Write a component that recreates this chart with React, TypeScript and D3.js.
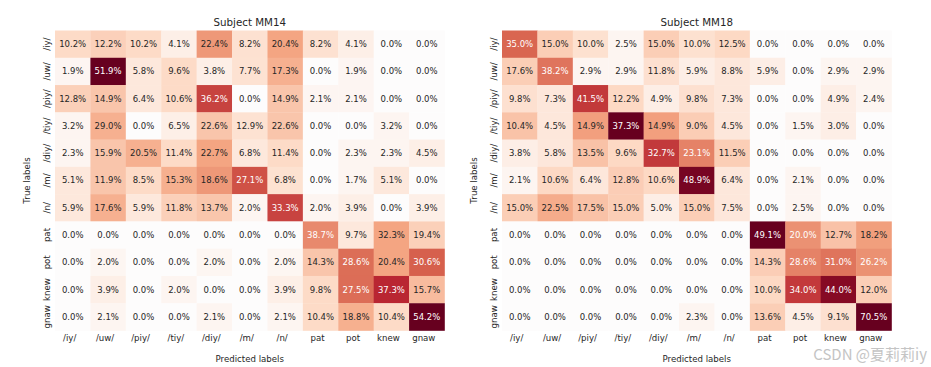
import React from "react";
import * as d3 from "d3";

// ---- data ----
const classLabels = ["/iy/", "/uw/", "/piy/", "/tiy/", "/diy/", "/m/", "/n/", "pat", "pot", "knew", "gnaw"];

// Row-normalised percentages, subject MM14 (rows = true label, cols = predicted)
const mm14Percent = [
  [10.2, 12.2, 10.2, 4.1, 22.4, 8.2, 20.4, 8.2, 4.1, 0.0, 0.0],
  [1.9, 51.9, 5.8, 9.6, 3.8, 7.7, 17.3, 0.0, 1.9, 0.0, 0.0],
  [12.8, 14.9, 6.4, 10.6, 36.2, 0.0, 14.9, 2.1, 2.1, 0.0, 0.0],
  [3.2, 29.0, 0.0, 6.5, 22.6, 12.9, 22.6, 0.0, 0.0, 3.2, 0.0],
  [2.3, 15.9, 20.5, 11.4, 22.7, 6.8, 11.4, 0.0, 2.3, 2.3, 4.5],
  [5.1, 11.9, 8.5, 15.3, 18.6, 27.1, 6.8, 0.0, 1.7, 5.1, 0.0],
  [5.9, 17.6, 5.9, 11.8, 13.7, 2.0, 33.3, 2.0, 3.9, 0.0, 3.9],
  [0.0, 0.0, 0.0, 0.0, 0.0, 0.0, 0.0, 38.7, 9.7, 32.3, 19.4],
  [0.0, 2.0, 0.0, 0.0, 2.0, 0.0, 2.0, 14.3, 28.6, 20.4, 30.6],
  [0.0, 3.9, 0.0, 2.0, 0.0, 0.0, 3.9, 9.8, 27.5, 37.3, 15.7],
  [0.0, 2.1, 0.0, 0.0, 2.1, 0.0, 2.1, 10.4, 18.8, 10.4, 54.2],
];
// samples per true label (row support), MM14
const mm14Support = [49, 52, 47, 31, 44, 59, 51, 31, 49, 51, 48];

// Subject MM18
const mm18Percent = [
  [35.0, 15.0, 10.0, 2.5, 15.0, 10.0, 12.5, 0.0, 0.0, 0.0, 0.0],
  [17.6, 38.2, 2.9, 2.9, 11.8, 5.9, 8.8, 5.9, 0.0, 2.9, 2.9],
  [9.8, 7.3, 41.5, 12.2, 4.9, 9.8, 7.3, 0.0, 0.0, 4.9, 2.4],
  [10.4, 4.5, 14.9, 37.3, 14.9, 9.0, 4.5, 0.0, 1.5, 3.0, 0.0],
  [3.8, 5.8, 13.5, 9.6, 32.7, 23.1, 11.5, 0.0, 0.0, 0.0, 0.0],
  [2.1, 10.6, 6.4, 12.8, 10.6, 48.9, 6.4, 0.0, 2.1, 0.0, 0.0],
  [15.0, 22.5, 17.5, 15.0, 5.0, 15.0, 7.5, 0.0, 2.5, 0.0, 0.0],
  [0.0, 0.0, 0.0, 0.0, 0.0, 0.0, 0.0, 49.1, 20.0, 12.7, 18.2],
  [0.0, 0.0, 0.0, 0.0, 0.0, 0.0, 0.0, 14.3, 28.6, 31.0, 26.2],
  [0.0, 0.0, 0.0, 0.0, 0.0, 0.0, 0.0, 10.0, 34.0, 44.0, 12.0],
  [0.0, 0.0, 0.0, 0.0, 0.0, 2.3, 0.0, 13.6, 4.5, 9.1, 70.5],
];
const mm18Support = [40, 34, 41, 67, 52, 47, 40, 55, 42, 50, 44];

const panelTitles = ["Subject MM14", "Subject MM18"];

// ---- style ----
const FONT = "'DejaVu Sans', sans-serif";
const TXT = "#262626";
const cmapStops = ["#fdfcfc", "#fddbc7", "#f4a582", "#d6604d", "#b2182b", "#67001f"];

function luminance(c: string) {
  const rgb = d3.rgb(c);
  const lin = (v: number) => {
    const s = v / 255;
    return s <= 0.03928 ? s / 12.92 : Math.pow((s + 0.055) / 1.055, 2.4);
  };
  return 0.2126 * lin(rgb.r) + 0.7152 * lin(rgb.g) + 0.0722 * lin(rgb.b);
}

type PanelProps = {
  title: string;
  pct: number[][];
  support: number[];
  vmax: number;
  x0: number;
};

function Heatmap({ title, pct, support, vmax, x0 }: PanelProps) {
  const y0 = 30.5;
  const w = 389.5;
  const h = 300;
  const x = d3.scaleBand<string>().domain(classLabels).range([x0, x0 + w]).padding(0);
  const y = d3.scaleBand<string>().domain(classLabels).range([y0, y0 + h]).padding(0);
  const color = d3
    .scaleLinear<string>()
    .domain(d3.range(cmapStops.length).map((i) => (i / (cmapStops.length - 1)) * vmax))
    .range(cmapStops)
    .interpolate(d3.interpolateRgb)
    .clamp(true);

  const cells: React.ReactNode[] = [];
  pct.forEach((row, i) => {
    row.forEach((v, j) => {
      const count = (v * support[i]) / 100;
      const fill = color(count);
      const textFill = luminance(fill) > 0.408 ? TXT : "#ffffff";
      const cx = x(classLabels[j])!;
      const cy = y(classLabels[i])!;
      cells.push(
        <g key={`${i}-${j}`}>
          <rect x={cx} y={cy} width={x.bandwidth() + 0.3} height={y.bandwidth() + 0.3} fill={fill} />
          <text
            x={cx + x.bandwidth() / 2}
            y={cy + y.bandwidth() / 2}
            dy="0.35em"
            textAnchor="middle"
            fontSize={8.5}
            fill={textFill}
          >
            {v.toFixed(1) + "%"}
          </text>
        </g>
      );
    });
  });

  const cxMid = x0 + w / 2;
  return (
    <g fontFamily={FONT}>
      {cells}
      <text x={cxMid} y={25.5} textAnchor="middle" fontSize={10.3} fill={TXT}>
        {title}
      </text>
      {classLabels.map((lab) => (
        <text
          key={"xt" + lab}
          x={x(lab)! + x.bandwidth() / 2 - 3}
          y={340.5}
          textAnchor="middle"
          fontSize={8.6}
          fill={TXT}
        >
          {lab}
        </text>
      ))}
      {classLabels.map((lab) => (
        <text
          key={"yt" + lab}
          transform={`translate(${x0 - 5},${y(lab)! + y.bandwidth() / 2}) rotate(-90)`}
          textAnchor="middle"
          fontSize={8.6}
          fill={TXT}
        >
          {lab}
        </text>
      ))}
      <text x={cxMid} y={361.5} textAnchor="middle" fontSize={8.6} fill={TXT}>
        Predicted labels
      </text>
      <text
        transform={`translate(${x0 - 25},${y0 + h / 2}) rotate(-90)`}
        textAnchor="middle"
        fontSize={8.6}
        fill={TXT}
      >
        True labels
      </text>
    </g>
  );
}

export default function App() {
  return (
    <svg
      width={931}
      height={367}
      style={{ position: "absolute", left: 0, top: 0, background: "#ffffff" }}
    >
      <rect width={931} height={367} fill="#ffffff" />
      <Heatmap title={panelTitles[0]} pct={mm14Percent} support={mm14Support} vmax={25} x0={55} />
      <Heatmap title={panelTitles[1]} pct={mm18Percent} support={mm18Support} vmax={24} x0={502} />
      <text
        x={927}
        y={360}
        textAnchor="end"
        fontSize={15}
        fill="#c4c4c4"
        fontFamily="'Noto Sans CJK SC', 'Noto Sans', sans-serif"
      >
        CSDN @夏莉莉iy
      </text>
    </svg>
  );
}
